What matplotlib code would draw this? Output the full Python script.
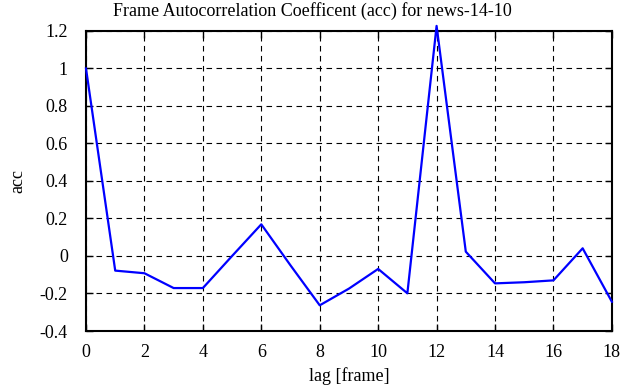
import matplotlib
matplotlib.use("Agg")
import matplotlib.pyplot as plt

plt.rcParams['font.family'] = ['Liberation Serif', 'DejaVu Serif']
plt.rcParams['axes.unicode_minus'] = False

lags = list(range(19))
acc = [1.0, -0.078, -0.092, -0.171, -0.171, 0.0, 0.169, -0.05, -0.263, -0.174,
       -0.069, -0.199, 1.227, 0.023, -0.146, -0.140, -0.130, 0.041, -0.244]

x_ticks = list(range(0, 19, 2))
y_ticks = [-0.4, -0.2, 0, 0.2, 0.4, 0.6, 0.8, 1, 1.2]
y_labels = ['-0.4', '-0.2', '0', '0.2', '0.4', '0.6', '0.8', '1', '1.2']

fig = plt.figure(figsize=(6.25, 3.87), dpi=100)
ax = fig.add_axes([0.1376, 0.1447, 0.979 - 0.1376, 0.920 - 0.1447])

ax.plot(lags, acc, color='#0000ff', linewidth=1.6, clip_on=False, zorder=3)

ax.set_xlim(0, 18)
ax.set_ylim(-0.4, 1.2)
ax.set_xticks(x_ticks)
ax.set_yticks(y_ticks)
ax.set_yticklabels(y_labels)
ax.tick_params(direction='in', top=True, right=True, length=5, width=1,
               labelsize=13, color='black')
ax.tick_params(axis='x', pad=9)
ax.tick_params(axis='y', pad=13)
ax.grid(True, color='black', linestyle=(0, (5, 4)), linewidth=0.8)
for s in ax.spines.values():
    s.set_linewidth(1.5)

fig.text(0.5, 1 - 11 / 387, 'Frame Autocorrelation Coefficent (acc) for news-14-10',
         fontsize=13, ha='center', va='center')
ax.set_xlabel('lag [frame]', fontsize=13, labelpad=5)
ax.set_ylabel('acc', fontsize=13, labelpad=10)

fig.savefig('out.png', dpi=100)
